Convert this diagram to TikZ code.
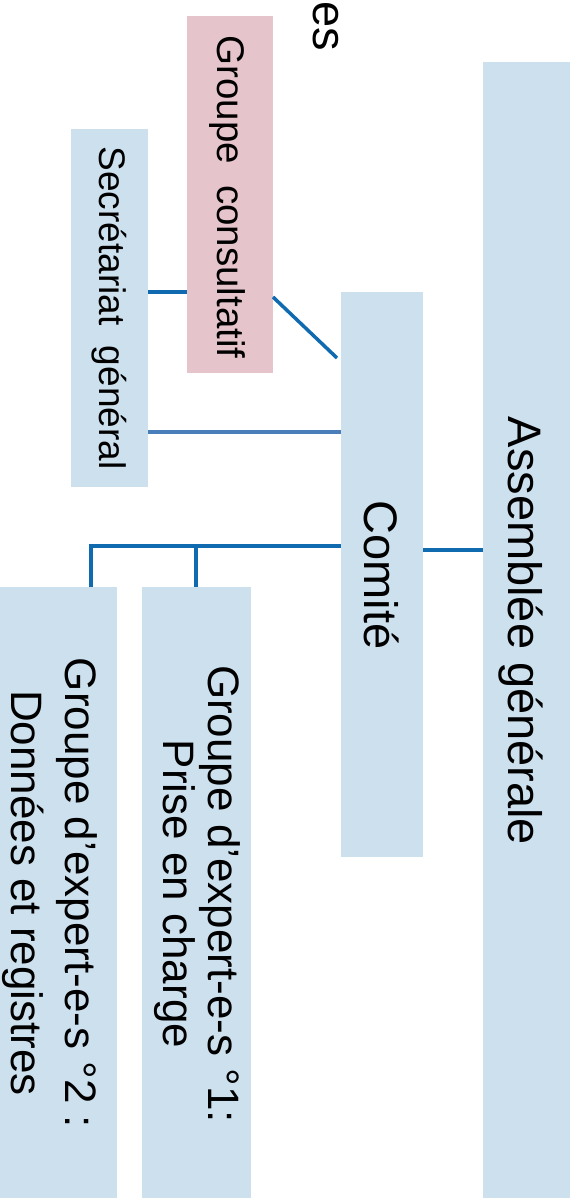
\documentclass[tikz,border=0pt]{standalone}
\usepackage{fontspec}
\setmainfont{Liberation Sans}
\usetikzlibrary{calc}
\definecolor{boxblue}{RGB}{204,224,238}
\definecolor{boxpink}{RGB}{230,196,204}
\definecolor{linkblue}{RGB}{16,106,176}
\definecolor{linklight}{RGB}{74,126,187}
\tikzset{
  box/.style={fill=boxblue, draw=none, inner sep=0pt, outer sep=0pt},
  pinkbox/.style={fill=boxpink, draw=none, inner sep=0pt, outer sep=0pt},
  vtext/.style={rotate=-90, anchor=base, inner sep=0pt, text=black},
  link/.style={draw=linkblue, line width=3.5pt},
}
\begin{document}
\begin{tikzpicture}[x=1pt,y=-1pt]
\useasboundingbox (0,0) rectangle (579,1204);
\clip (0,0) rectangle (579,1204);
% boxes
\node[box, minimum width=87pt, minimum height=1136pt] (ag) at (526.5,630) {};
\node[box, minimum width=82pt, minimum height=565pt] (com) at (382,574.5) {};
\node[box, minimum width=77pt, minimum height=358pt] (sec) at (109.5,308) {};
\node[pinkbox, minimum width=86pt, minimum height=357pt] (cons) at (230,194.5) {};
\node[box, minimum width=109pt, minimum height=611pt] (g1) at (196.5,892.5) {};
\node[box, minimum width=117pt, minimum height=611pt] (g2) at (58.5,892.5) {};
% texts
\node[vtext, font=\fontsize{47}{56}\selectfont] (tag) at (508,631) {Assemblée générale};
\node[vtext, font=\fontsize{47}{56}\selectfont] (tcom) at (364,575) {Comité};
\node[vtext, font=\fontsize{37}{44}\selectfont] (tsec) at (99,308) {Secrétariat\ \ général};
\node[vtext, font=\fontsize{38.5}{46}\selectfont] (tcons) at (217,197) {Groupe\ \ consultatif};
\node[vtext, font=\fontsize{44}{41}\selectfont] (tg1) at (208,894)
  {\begin{tabular}[t]{@{}c@{}}Groupe d’expert-e-s °1:\\Prise en charge\end{tabular}};
\node[vtext, font=\fontsize{44}{54}\selectfont] (tg2) at (65,893)
  {\begin{tabular}[t]{@{}c@{}}Groupe d’expert-e-s °2 :\\Données et registres\end{tabular}};
\node[vtext, anchor=base east, font=\fontsize{47}{56}\selectfont] (tees) at (313,51) {ées};
% connectors
\coordinate (dg) at (337,358);
\draw[link] (sec.east |- 0,292) -- (cons.west |- 0,292);
\draw[link] (cons.east |- 0,297) -- (dg);
\draw[link, draw=linklight] (sec.east |- 0,432) -- (com.west |- 0,432);
\draw[link] (com.east |- 0,550) -- (ag.west |- 0,550);
\draw[link] (com.west |- 0,546) -- (91,546) -- (g2.north -| 91,0);
\draw[link] (196,546) -- (g1.north -| 196,0);
\end{tikzpicture}
\end{document}
